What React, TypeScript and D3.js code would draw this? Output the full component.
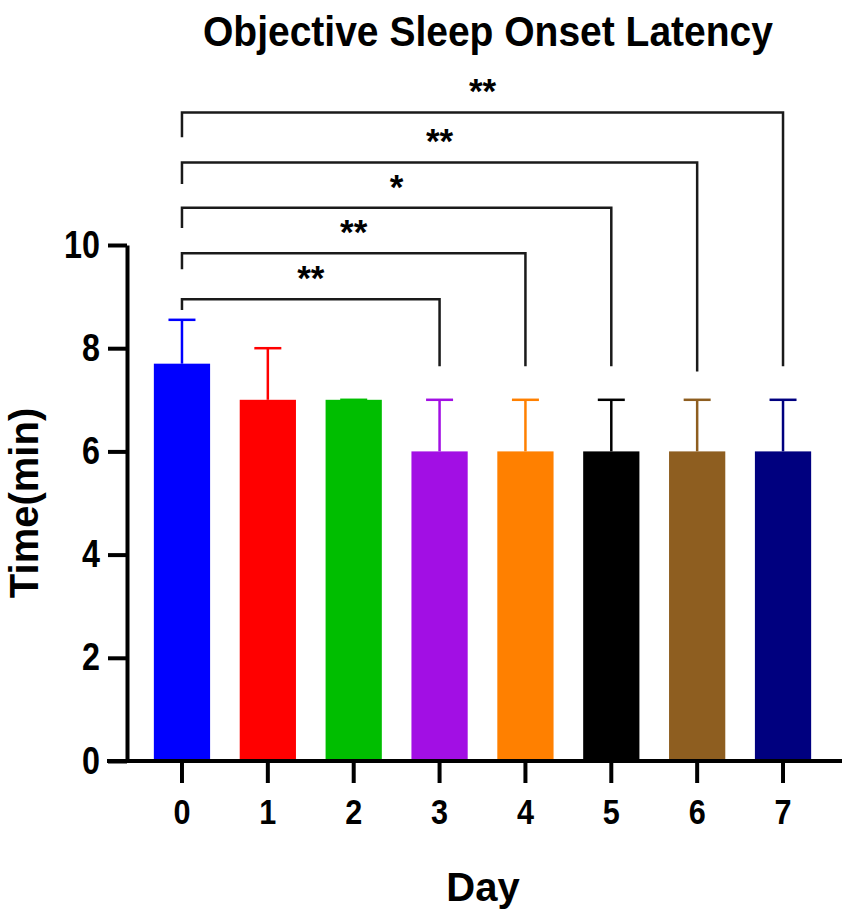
import * as d3 from "d3";
import { useEffect, useRef } from "react";

// values
const days = ["0", "1", "2", "3", "4", "5", "6", "7"];
const means = [7.7, 7, 7, 6, 6, 6, 6, 6];
const errors = [0.85, 1, 0, 1, 1, 1, 1, 1];
const barColors = [
  "#0000FF",
  "#FF0000",
  "#00BE00",
  "#A20FE4",
  "#FF8000",
  "#000000",
  "#8E5E20",
  "#00007F",
];
const yTicks = [0, 2, 4, 6, 8, 10];

// significance brackets, all against day 0
const compareTo = ["3", "4", "5", "6", "7"];
const compareLabels = ["**", "**", "*", "**", "**"];
const bracketTops = [8.95, 9.84, 10.72, 11.6, 12.57];
const bracketLeftEnds = [8.74, 9.53, 10.33, 11.18, 12.09];
const bracketRightEnds = [7.65, 7.65, 7.65, 7.55, 7.65];

const width = 851;
const height = 920;
const plotLeft = 127;
const plotRight = 842;
const plotTop = 245;
const plotBottom = 761;
const font = "'Liberation Sans', Arial, sans-serif";
const squeeze = 0.85; // the figure's lettering is slightly condensed

export default function App() {
  const gx = useRef<SVGGElement>(null);
  const gy = useRef<SVGGElement>(null);

  const x = d3
    .scaleBand<string>()
    .domain(days)
    .range([plotLeft - 2, plotRight - 2])
    .paddingInner(0.345)
    .paddingOuter(0.336);

  const y = d3.scaleLinear().domain([0, 10]).range([plotBottom, plotTop]);

  const cx = (d: string) => (x(d) ?? 0) + x.bandwidth() / 2;
  const capHalf = x.bandwidth() * 0.24;

  useEffect(() => {
    if (!gx.current || !gy.current) return;

    const ax = d3.select(gx.current);
    ax.call(d3.axisBottom(x).tickSize(22).tickSizeOuter(0).tickPadding(15) as any);
    ax.select(".domain").remove();
    ax.selectAll(".tick line").attr("stroke", "#000").attr("stroke-width", 4);
    ax.selectAll(".tick text")
      .attr("fill", "#000")
      .attr("transform", `scale(${squeeze},1)`)
      .style("font-family", font)
      .style("font-weight", "bold")
      .style("font-size", "36px");

    const ay = d3.select(gy.current);
    ay.call(
      d3
        .axisLeft(y)
        .tickValues(yTicks)
        .tickFormat(d3.format("d"))
        .tickSize(19)
        .tickSizeOuter(0)
        .tickPadding(8) as any,
    );
    ay.select(".domain").attr("stroke", "#000").attr("stroke-width", 4);
    ay.selectAll(".tick line").attr("stroke", "#000").attr("stroke-width", 4);
    ay.selectAll(".tick text")
      .attr("fill", "#000")
      .attr("x", -27 / squeeze)
      .attr("transform", `scale(${squeeze},1)`)
      .style("font-family", font)
      .style("font-weight", "bold")
      .style("font-size", "38px");
  }, []);

  return (
    <svg
      width={width}
      height={height}
      style={{ position: "absolute", left: 0, top: 0, background: "#fff" }}
    >
      <text
        x={488}
        y={46}
        textAnchor="middle"
        textLength={570}
        lengthAdjust="spacingAndGlyphs"
        style={{ fontFamily: font, fontWeight: "bold", fontSize: 43 }}
      >
        Objective Sleep Onset Latency
      </text>

      {/* bars */}
      <g>
        {days.map((d, i) => (
          <rect
            key={d}
            x={x(d)}
            y={y(means[i])}
            width={x.bandwidth()}
            height={y(0) - y(means[i])}
            fill={barColors[i]}
          />
        ))}
      </g>

      {/* error bars (upper only) */}
      <g>
        {days.map((d, i) => {
          const top = y(means[i] + errors[i]);
          return (
            <g key={d} stroke={barColors[i]} strokeWidth={2.5}>
              <line x1={cx(d)} x2={cx(d)} y1={y(means[i])} y2={top} />
              <line x1={cx(d) - capHalf} x2={cx(d) + capHalf} y1={top} y2={top} />
            </g>
          );
        })}
      </g>

      {/* significance brackets */}
      <g>
        {compareTo.map((d, i) => {
          const x0 = cx(days[0]);
          const x1 = cx(d);
          const yt = y(bracketTops[i]);
          return (
            <g key={d}>
              <path
                d={`M${x0},${y(bracketLeftEnds[i])}V${yt}H${x1}V${y(bracketRightEnds[i])}`}
                fill="none"
                stroke="#1a1a1a"
                strokeWidth={2.5}
              />
              <text
                x={(x0 + x1) / 2}
                y={yt - 9}
                textAnchor="middle"
                style={{ fontFamily: font, fontWeight: "bold", fontSize: 35 }}
              >
                {compareLabels[i]}
              </text>
            </g>
          );
        })}
      </g>

      {/* axes */}
      <line
        x1={plotLeft - 20}
        x2={plotRight}
        y1={plotBottom}
        y2={plotBottom}
        stroke="#000"
        strokeWidth={4}
      />
      <g ref={gx} transform={`translate(0,${plotBottom})`} />
      <g ref={gy} transform={`translate(${plotLeft},0)`} />

      <text
        transform={`translate(38,503) rotate(-90)`}
        textAnchor="middle"
        style={{ fontFamily: font, fontWeight: "bold", fontSize: 40 }}
      >
        Time(min)
      </text>
      <text
        x={483}
        y={901}
        textAnchor="middle"
        style={{ fontFamily: font, fontWeight: "bold", fontSize: 40 }}
      >
        Day
      </text>
    </svg>
  );
}
